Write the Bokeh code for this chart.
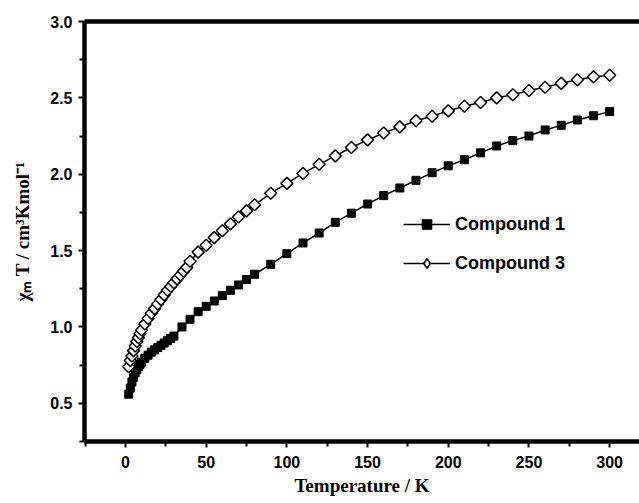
import numpy as np
from bokeh.plotting import figure
from bokeh.models import (Range1d, FixedTicker, LinearAxis, Legend, LegendItem,
                          NumeralTickFormatter, ColumnDataSource, CDSView, IndexFilter)
from bokeh.embed import file_html
from bokeh.resources import INLINE

# ---- data ----
temp_1 = [2, 3, 4, 5, 6, 7, 8, 9, 10, 12, 14, 16, 18, 20, 22, 24, 26, 28, 30,
          35, 40, 45, 50, 55, 60, 65, 70, 75, 80, 90, 100, 110, 120, 130, 140,
          150, 160, 170, 180, 190, 200, 210, 220, 230, 240, 250, 260, 270, 280,
          290, 300]
chi_1 = [0.56, 0.60, 0.64, 0.67, 0.70, 0.72, 0.74, 0.755, 0.77, 0.795, 0.815,
         0.835, 0.85, 0.865, 0.88, 0.895, 0.91, 0.925, 0.94,
         1.0, 1.05, 1.10, 1.135, 1.17, 1.205, 1.24, 1.275, 1.31, 1.345, 1.41,
         1.48, 1.55, 1.615, 1.685, 1.745, 1.805, 1.86, 1.91, 1.96, 2.01, 2.055,
         2.095, 2.14, 2.185, 2.22, 2.25, 2.29, 2.32, 2.355, 2.383, 2.41]

temp_3 = [2, 3, 4, 5, 6, 7, 8, 9, 10, 12, 14, 16, 18, 20, 22, 24, 26, 28, 30,
          32, 34, 36, 38, 40, 45, 50, 55, 60, 65, 70, 75, 80, 90, 100, 110, 120,
          130, 140, 150, 160, 170, 180, 190, 200, 210, 220, 230, 240, 250, 260,
          270, 280, 290, 300]
chi_3 = [0.74, 0.78, 0.81, 0.845, 0.875, 0.905, 0.93, 0.955, 0.98, 1.02, 1.055,
         1.09, 1.12, 1.15, 1.18, 1.21, 1.24, 1.265, 1.29, 1.315, 1.34, 1.365,
         1.39, 1.43, 1.49, 1.535, 1.585, 1.63, 1.675, 1.72, 1.76, 1.80, 1.875,
         1.94, 2.005, 2.065, 2.12, 2.175, 2.225, 2.27, 2.31, 2.35, 2.38, 2.415,
         2.445, 2.47, 2.50, 2.52, 2.548, 2.57, 2.595, 2.618, 2.638, 2.648]

series_names = ["Compound 1", "Compound 3"]
x_major_ticks = [0, 50, 100, 150, 200, 250, 300]
x_minor_ticks = [-25, 25, 75, 125, 175, 225, 275]
y_major_ticks = [0.5, 1.0, 1.5, 2.0, 2.5, 3.0]
y_minor_ticks = [0.25, 0.75, 1.25, 1.75, 2.25, 2.75]
x_title = "Temperature / K"
y_title = "χₘ T / cm³Kmol⁻¹"

# ---- figure ----
p = figure(frame_width=555, frame_height=420,
           x_range=Range1d(-25.4, 318.5), y_range=Range1d(0.25, 3.0),
           output_backend="svg", toolbar_location=None,
           min_border_left=84, min_border_right=0, min_border_top=21,
           min_border_bottom=0)
p.xgrid.visible = False
p.ygrid.visible = False
p.outline_line_color = None
p.background_fill_color = "white"

p.xaxis.ticker = FixedTicker(ticks=x_major_ticks, minor_ticks=x_minor_ticks)
p.yaxis.ticker = FixedTicker(ticks=y_major_ticks, minor_ticks=y_minor_ticks)
p.yaxis.formatter = NumeralTickFormatter(format="0.0")
p.xaxis.axis_label = x_title
p.yaxis.axis_label = y_title

for ax in (p.xaxis[0], p.yaxis[0]):
    ax.axis_line_width = 4.5
    ax.axis_line_color = "black"
    ax.major_tick_line_width = 2
    ax.minor_tick_line_width = 2
    ax.major_tick_in = 0
    ax.major_tick_out = 6
    ax.minor_tick_in = 0
    ax.minor_tick_out = 5
    ax.major_label_text_font = "Liberation Sans"
    ax.major_label_text_font_style = "bold"
    ax.major_label_text_font_size = "16px"
    ax.major_label_text_color = "black"
    ax.axis_label_text_font = "Liberation Serif"
    ax.axis_label_text_font_style = "bold"
    ax.axis_label_text_font_size = "19px"
    ax.axis_label_text_color = "black"

p.xaxis.major_label_standoff = 8
p.xaxis.axis_label_standoff = 4
p.yaxis.major_label_standoff = 6
p.yaxis.axis_label_standoff = 14

top_axis = LinearAxis(axis_line_width=4.5, axis_line_color="black",
                      ticker=FixedTicker(ticks=[], minor_ticks=[]),
                      major_tick_line_color=None, minor_tick_line_color=None,
                      major_label_standoff=0)
p.add_layout(top_axis, "above")

# ---- series ----
# legend key for the open diamonds (legend glyphs ignore marker angle);
# it shows only the first point, which the open marker drawn later covers
src3 = ColumnDataSource(data=dict(x=temp_3, y=chi_3))
s3_key = p.scatter("x", "y", source=src3, view=CDSView(filter=IndexFilter(indices=[0])),
                   marker="diamond", size=10,
                   fill_color="white", line_color="black", line_width=1.5)
l1 = p.line(temp_1, chi_1, line_color="black", line_width=1.5)
s1 = p.scatter(temp_1, chi_1, marker="square", size=8,
               fill_color="black", line_color="black", line_width=1)
l3 = p.line(temp_3, chi_3, line_color="black", line_width=1.5)
s3 = p.scatter(temp_3, chi_3, marker="square", angle=np.pi / 4, size=8.5,
               fill_color="white", line_color="black", line_width=1.5)

legend = Legend(items=[LegendItem(label=series_names[0], renderers=[l1, s1]),
                       LegendItem(label=series_names[1], renderers=[l3, s3_key])],
                location=(319, 166), padding=0, margin=0, spacing=15,
                glyph_width=47, glyph_height=24, label_height=20,
                label_standoff=5, border_line_color=None,
                background_fill_alpha=0,
                label_text_font="Liberation Sans",
                label_text_font_style="bold",
                label_text_font_size="18px", label_text_color="black")
p.add_layout(legend)

open("out.html", "w").write(file_html(p, INLINE))
